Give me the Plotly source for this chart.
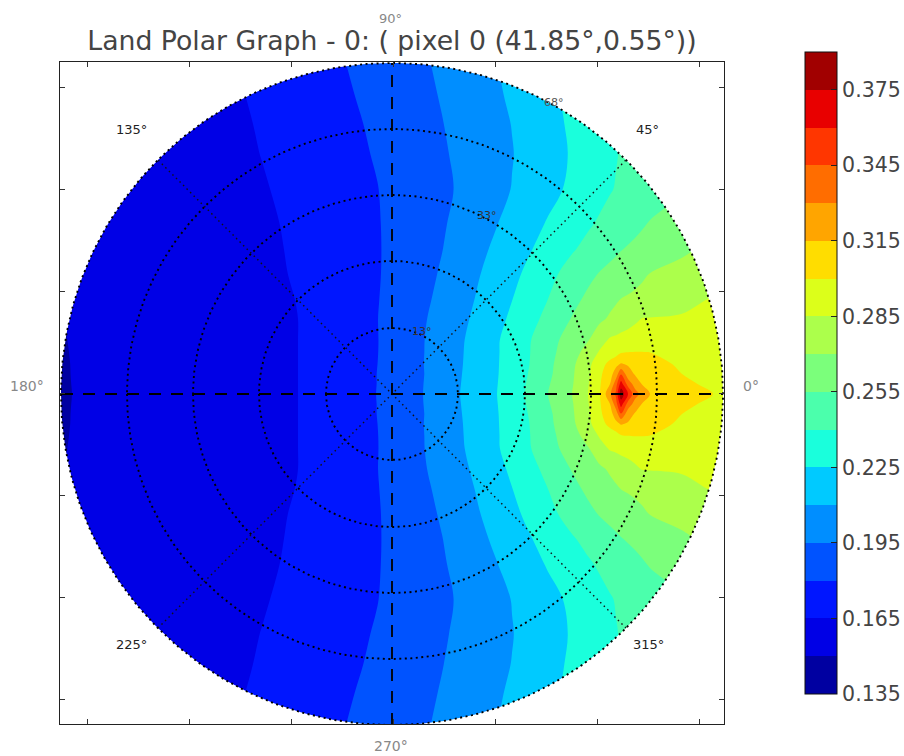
import numpy as np
import plotly.graph_objects as go

TITLE = "Land Polar Graph - 0: ( pixel 0 (41.85°,0.55°))"
FONT = "DejaVu Sans"

# Field. Units: pixels from the pole. Upper half; the map is mirror-symmetric.
x_cols = [-340, -320, -220, -130, -94, -50, -16, 10, 31, 50, 70, 88, 105, 120, 135, 156, 180, 196, 208,
          218, 224, 229, 236, 243, 250, 258, 290, 321, 340]
y_rows = [0, 10, 20, 30, 42, 54, 75, 95, 120, 145, 170, 205, 240, 270, 300, 335]
z_rows = [
    [.145, .150, .1566, .1626, .165, .1735, .180, .1883, .195, .2027, .2108, .2181, .225, .233, .2413, .255, .270, .285, .300, .327, .348, .385, .360, .336, .325, .315, .3074, .300, .295],
    [.145, .1502, .1566, .1626, .165, .1735, .1798, .188, .1948, .2026, .2104, .2177, .2246, .2325, .2406, .2537, .2687, .2840, .2988, .315, .339, .367, .339, .324, .3145, .3126, .304, .296, .293],
    [.145, .1504, .1566, .1626, .165, .1733, .1798, .1878, .1945, .2020, .21, .2172, .2242, .2317, .2395, .2519, .2680, .2822, .2973, .3097, .3217, .344, .3214, .3138, .3118, .3094, .300, .2968, .2895],
    [.145, .1505, .1566, .1626, .165, .1732, .1795, .188, .1947, .2019, .2096, .2170, .2240, .2313, .2385, .2513, .2667, .2814, .2935, .3046, .3115, .316, .3133, .3113, .3090, .306, .2973, .2952, .2922],
    [.1455, .1508, .1567, .1627, .165, .1730, .1793, .1875, .1945, .2016, .2093, .2168, .2238, .231, .2381, .2503, .2638, .2754, .2866, .2906, .293, .2985, .2998, .3002, .3002, .2998, .2958, .2933, .2905],
    [.146, .1512, .157, .1628, .165, .1727, .1792, .1877, .1944, .2014, .2089, .2164, .2237, .2306, .2377, .2492, .2616, .2691, .2794, .2868, .288, .2895, .2905, .2915, .2925, .293, .2925, .2915, .2885],
    [.147, .1515, .1572, .1629, .165, .1727, .1794, .1871, .1936, .2001, .2072, .2141, .2211, .2275, .2342, .244, .2558, .2626, .2676, .2719, .2745, .2767, .2798, .2828, .2855, .2858, .2866, .288, .285],
    [.149, .1505, .1575, .1630, .1652, .1730, .1791, .1861, .1922, .1984, .2054, .212, .2188, .2247, .2311, .24, .2509, .2577, .2622, .266, .2683, .2701, .2713, .2725, .2737, .275, .2804, .2857, .283],
    [.1495, .152, .1575, .1622, .1661, .1732, .1788, .1851, .1909, .1964, .2035, .2098, .216, .2215, .2273, .2360, .2455, .2516, .2559, .2588, .2605, .262, .264, .266, .268, .2703, .274, .278, .276],
    [.150, .1525, .158, .1622, .1668, .1736, .1788, .1846, .1908, .1947, .2012, .2071, .2128, .2179, .2231, .2303, .2386, .2438, .2477, .2509, .2528, .2544, .2561, .2576, .2591, .2609, .2678, .2735, .276],
    [.1505, .153, .1585, .1625, .1676, .1739, .179, .1844, .1892, .1936, .1992, .2045, .2097, .2145, .2194, .2262, .2335, .2383, .2418, .2446, .2463, .2477, .2497, .2517, .2537, .2559, .264, .270, .272],
    [.151, .1535, .159, .1639, .1688, .1748, .1795, .1844, .1886, .1924, .1969, .2017, .2063, .2104, .2147, .2207, .2277, .2325, .2361, .2391, .2407, .2417, .2433, .2448, .2463, .2480, .255, .259, .261],
    [.1515, .152, .1536, .1653, .170, .176, .1808, .1858, .1898, .1935, .1978, .2020, .2060, .2095, .2136, .2194, .2262, .2310, .2346, .2376, .2394, .2409, .2429, .2449, .2469, .2489, .255, .26, .262],
    [.152, .1525, .1542, .1662, .1710, .1768, .1819, .1869, .1910, .1946, .1990, .2031, .2069, .2103, .2145, .2205, .2271, .2310, .235, .238, .24, .2415, .2435, .2455, .2475, .25, .256, .26, .262],
    [.152, .153, .1551, .1673, .1721, .178, .1835, .1883, .1922, .1959, .2005, .2046, .2084, .2121, .2162, .2218, .2285, .233, .236, .239, .241, .2425, .2445, .2465, .2485, .251, .257, .261, .263],
    [.1525, .154, .1566, .1686, .1735, .1795, .1853, .1899, .1936, .1975, .2020, .2061, .21, .2141, .2182, .2239, .23, .234, .237, .24, .242, .2435, .2455, .2475, .2495, .252, .258, .262, .264],
]
band_colors = ["#0000a1", "#0000e6", "#0016ff", "#0053ff", "#008eff", "#00caff", "#1affdc", "#4bffac", "#7bff7b",
               "#acff4b", "#dcff1a", "#ffdd00", "#ffa500", "#ff6d00", "#ff3600", "#e80000", "#a10000"]
cbar_ticks = [0.135, 0.165, 0.195, 0.225, 0.255, 0.285, 0.315, 0.345, 0.375]
circle_radii = [66, 133, 199, 265, 331]
dashed_meridians = [0, 90]
dotted_meridians = [45, 135]
disc_radius = 331
frame_ticks_x = [-305, -203, -101, 1, 103, 205, 307]
frame_ticks_y = [307, 205, 103, 1, -101, -203, -305]
# text, pixel x, pixel y, size, colour
labels = [
    ("135°", 131, 129, 13, "#222222"), ("45°", 647, 129, 13, "#222222"),
    ("225°", 131, 644, 13, "#222222"), ("315°", 648, 644, 13, "#222222"),
    ("180°", 27, 386, 14, "#888888"), ("0°", 751, 386, 14, "#888888"),
    ("90°", 390, 18, 13, "#888888"), ("270°", 391, 746, 14, "#888888"),
    ("13°", 422, 331, 11, "#333333"), ("33°", 487, 216, 11, "#333333"), ("68°", 554, 102, 11, "#555555"),
]

W, H = 904, 756
FL, FR, FT, FB = 60, 724, 62, 724
rows = np.array(z_rows)
z_full = np.vstack([rows[:0:-1], rows])
y_full = [-v for v in y_rows[:0:-1]] + y_rows

fig = go.Figure()
fig.add_trace(go.Contour(
    x=x_cols, y=y_full, z=z_full.tolist(), zmin=0.135, zmax=0.39, autocontour=False,
    contours=dict(start=0.15, end=0.375, size=0.015, coloring="fill", showlines=False),
    line=dict(width=0), hoverinfo="skip",
    colorscale=[[i / 16, c] for i, c in enumerate(band_colors)],
    colorbar=dict(
        thickness=32, thicknessmode="pixels", len=642, lenmode="pixels",
        x=(805 - FL) / (FR - FL), xanchor="left", xpad=0,
        y=(FB - 52) / (FB - FT), yanchor="top", ypad=0,
        outlinecolor="#111111", outlinewidth=1, borderwidth=0,
        tickmode="array", tickvals=cbar_ticks, ticktext=[f"{v:.3f}" for v in cbar_ticks],
        ticks="inside", ticklen=6, tickcolor="#222222", tickwidth=1,
        tickfont=dict(family=FONT, size=20.5, color="#444444"),
    ),
))

# white surround that gives the disc its edge
t = np.radians(np.linspace(180, 540, 361))
mx = [-332, -332, 332, 332, -332, -332] + list(disc_radius * np.cos(t))
my = [0, 332, 332, -330, -330, 0] + list(disc_radius * np.sin(t))
fig.add_trace(go.Scatter(x=mx, y=my, mode="lines", fill="toself", fillcolor="white",
                         line=dict(width=0), hoverinfo="skip", showlegend=False))

for r in circle_radii:
    fig.add_trace(go.Scatter(x=r * np.cos(t), y=r * np.sin(t), mode="lines", hoverinfo="skip", showlegend=False,
                             line=dict(color="black", width=1.9, dash="2px,3.5px")))
for a in dotted_meridians:
    c, s = np.cos(np.radians(a)), np.sin(np.radians(a))
    fig.add_trace(go.Scatter(x=[-disc_radius * c, disc_radius * c], y=[-disc_radius * s, disc_radius * s],
                             mode="lines", hoverinfo="skip", showlegend=False,
                             line=dict(color="#111111", width=1.4, dash="1.5px,3.5px")))
for a in dashed_meridians:
    c, s = np.cos(np.radians(a)), np.sin(np.radians(a))
    fig.add_trace(go.Scatter(x=[-disc_radius * c, disc_radius * c], y=[-disc_radius * s, disc_radius * s],
                             mode="lines", hoverinfo="skip", showlegend=False,
                             line=dict(color="black", width=1.8, dash="12px,10px")))

for text, px, py, size, color in labels:
    fig.add_annotation(x=(px - FL) / (FR - FL), y=(FB - py) / (FB - FT), xref="paper", yref="paper",
                       text=text, showarrow=False, xanchor="center", yanchor="middle",
                       font=dict(family=FONT, size=size, color=color))

axis = dict(showgrid=False, zeroline=False, showticklabels=False, ticks="inside", ticklen=5,
            tickcolor="#333333", tickwidth=1, showline=True, linecolor="#222222", linewidth=1, mirror="ticks")
fig.update_layout(
    width=W, height=H, autosize=False, showlegend=False,
    paper_bgcolor="white", plot_bgcolor="white",
    margin=dict(l=FL, r=W - FR, t=FT, b=H - FB, autoexpand=False),
    title=dict(text=TITLE, x=392 / W, xanchor="center", y=1 - 41 / H, yanchor="middle",
               font=dict(family=FONT, size=26.7, color="#444444")),
    xaxis=dict(axis, range=[-332, 332], tickmode="array", tickvals=frame_ticks_x),
    yaxis=dict(axis, range=[-330, 332], tickmode="array", tickvals=frame_ticks_y),
)
fig.write_html("out.html", config={"displayModeBar": False},
               post_script="document.body.style.margin='0';document.body.style.overflow='hidden';")
